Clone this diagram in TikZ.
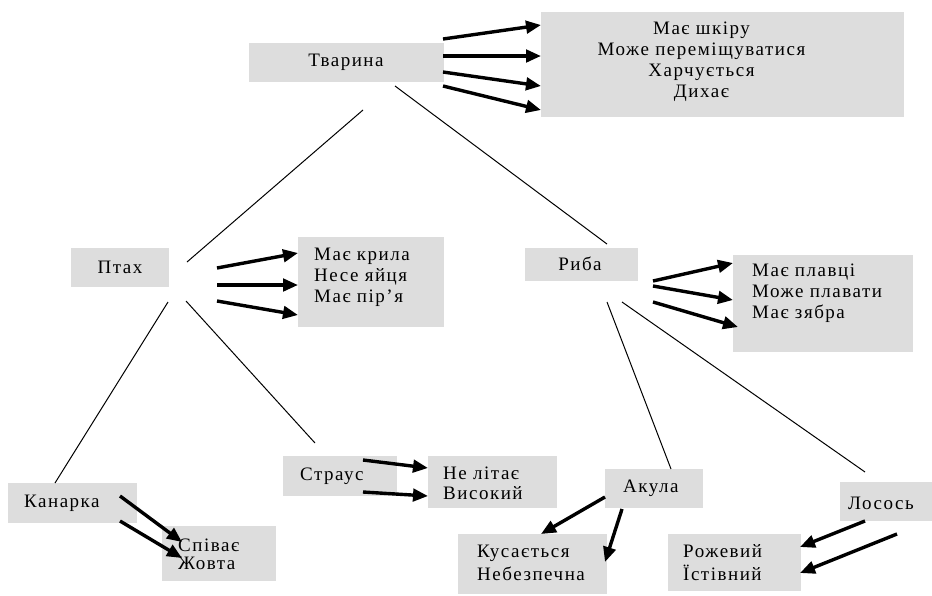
\documentclass[tikz,border=0pt]{standalone}
\usepackage{fontspec}
\setmainfont{Liberation Serif}[LetterSpace=8]
\usetikzlibrary{arrows.meta}
\definecolor{boxgray}{RGB}{221,221,221}

\begin{document}
\begin{tikzpicture}[x=1pt,y=-1pt,
  box/.style={fill=boxgray, draw=none, inner sep=0pt, anchor=north west},
  lbl/.style={inner sep=0pt, font=\fontsize{19}{21}\selectfont},
  link/.style={line width=1pt},
  prop/.style={line width=3.4pt, -{Triangle[length=15pt,width=12.5pt]}}
]
\useasboundingbox (0,0) rectangle (932,595);

% ---- boxes ----
\node[box, minimum width=195pt, minimum height=39pt]  (animal)    at (249,43)  {};
\node[box, minimum width=363pt, minimum height=105pt] (animalP)   at (541,12)  {};
\node[box, minimum width=98pt,  minimum height=39pt]  (bird)      at (71,248)  {};
\node[box, minimum width=146pt, minimum height=90pt]  (birdP)     at (298,237) {};
\node[box, minimum width=113pt, minimum height=33pt]  (fish)      at (525,248) {};
\node[box, minimum width=180pt, minimum height=97pt]  (fishP)     at (733,255) {};
\node[box, minimum width=129pt, minimum height=40pt]  (canary)    at (8,483)   {};
\node[box, minimum width=114pt, minimum height=55pt]  (canaryP)   at (162,526) {};
\node[box, minimum width=114pt, minimum height=40pt]  (ostrich)   at (283,456) {};
\node[box, minimum width=129pt, minimum height=52pt]  (ostrichP)  at (428,456) {};
\node[box, minimum width=98pt,  minimum height=39pt]  (shark)     at (605,469) {};
\node[box, minimum width=149pt, minimum height=60pt]  (sharkP)    at (458,534) {};
\node[box, minimum width=92pt,  minimum height=39pt]  (salmon)    at (840,482) {};
\node[box, minimum width=133pt, minimum height=57pt]  (salmonP)   at (668,534) {};

% ---- texts ----
\node[lbl] (animalT) at (346,62) {Тварина};
\node[lbl, align=center] (animalPT) at (701.5,62) {Має шкіру\\Може переміщуватися\\Харчується\\Дихає};
\node[lbl] (birdT) at (120,267) {Птах};
\node[lbl, anchor=west, align=left] (birdPT) at (314,277) {Має крила\\Несе яйця\\Має пір’я};
\node[lbl] (fishT) at (580,264) {Риба};
\node[lbl, anchor=west, align=left] (fishPT) at (752,293) {Має плавці\\Може плавати\\Має зябра};
\node[lbl, anchor=west] (canaryT) at (24,503) {Канарка};
\node[lbl, anchor=west, align=left, font=\fontsize{19}{18}\selectfont] (canaryPT) at (178,554) {Співає\\Жовта};
\node[lbl, anchor=west] (ostrichT) at (300,476) {Страус};
\node[lbl, anchor=west, align=left, font=\fontsize{19}{20}\selectfont] (ostrichPT) at (443,483) {Не літає\\Високий};
\node[lbl, anchor=west] (sharkT) at (623,488) {Акула};
\node[lbl, anchor=west, align=left, font=\fontsize{19}{23}\selectfont] (sharkPT) at (477,563) {Кусається\\Небезпечна};
\node[lbl, anchor=west] (salmonT) at (848,503) {Лосось};
\node[lbl, anchor=west, align=left, font=\fontsize{19}{23}\selectfont] (salmonPT) at (683,563) {Рожевий\\Їстівний};

% ---- end points of the tree links ----
\coordinate (lA1) at (363,110);  \coordinate (lB1) at (187,262);
\coordinate (lA2) at (395,86);   \coordinate (lF1) at (607,244);
\coordinate (lB2) at (168,302);  \coordinate (lC1) at (55,483);
\coordinate (lB3) at (186,301);  \coordinate (lO1) at (315,443);
\coordinate (lF2) at (607,302);  \coordinate (lS1) at (671,469);
\coordinate (lF3) at (622,302);  \coordinate (lL1) at (865,472);

\draw[link] (lA1) -- (lB1);
\draw[link] (lA2) -- (lF1);
\draw[link] (lB2) -- (lC1);
\draw[link] (lB3) -- (lO1);
\draw[link] (lF2) -- (lS1);
\draw[link] (lF3) -- (lL1);

% ---- end points of the property arrows ----
\coordinate (aS1) at (443,39);  \coordinate (aE1) at (541,25);
\coordinate (aS2) at (443,56);  \coordinate (aE2) at (541,56);
\coordinate (aS3) at (443,72);  \coordinate (aE3) at (541,86);
\coordinate (aS4) at (443,86);  \coordinate (aE4) at (541,110);

\coordinate (bS1) at (217,268); \coordinate (bE1) at (298,253);
\coordinate (bS2) at (217,285); \coordinate (bE2) at (298,285);
\coordinate (bS3) at (217,301); \coordinate (bE3) at (298,315);

\coordinate (fS1) at (653,281); \coordinate (fE1) at (733,263);
\coordinate (fS2) at (653,286); \coordinate (fE2) at (733,300);
\coordinate (fS3) at (653,302); \coordinate (fE3) at (738,327);

\coordinate (cS1) at (120,496); \coordinate (cE1) at (182,542);
\coordinate (cS2) at (120,521); \coordinate (cE2) at (182,558);

\coordinate (oS1) at (363,460); \coordinate (oE1) at (428,468);
\coordinate (oS2) at (363,492); \coordinate (oE2) at (428,496);

\coordinate (sS1) at (605,497); \coordinate (sE1) at (541,534);
\coordinate (sS2) at (622,509); \coordinate (sE2) at (605,562);

\coordinate (mS1) at (865,521); \coordinate (mE1) at (800,547);
\coordinate (mS2) at (897,534); \coordinate (mE2) at (800,573);

\draw[prop] (aS1) -- (aE1);
\draw[prop] (aS2) -- (aE2);
\draw[prop] (aS3) -- (aE3);
\draw[prop] (aS4) -- (aE4);
\draw[prop] (bS1) -- (bE1);
\draw[prop] (bS2) -- (bE2);
\draw[prop] (bS3) -- (bE3);
\draw[prop] (fS1) -- (fE1);
\draw[prop] (fS2) -- (fE2);
\draw[prop] (fS3) -- (fE3);
\draw[prop] (cS1) -- (cE1);
\draw[prop] (cS2) -- (cE2);
\draw[prop] (oS1) -- (oE1);
\draw[prop] (oS2) -- (oE2);
\draw[prop] (sS1) -- (sE1);
\draw[prop] (sS2) -- (sE2);
\draw[prop] (mS1) -- (mE1);
\draw[prop] (mS2) -- (mE2);
\end{tikzpicture}
\end{document}
